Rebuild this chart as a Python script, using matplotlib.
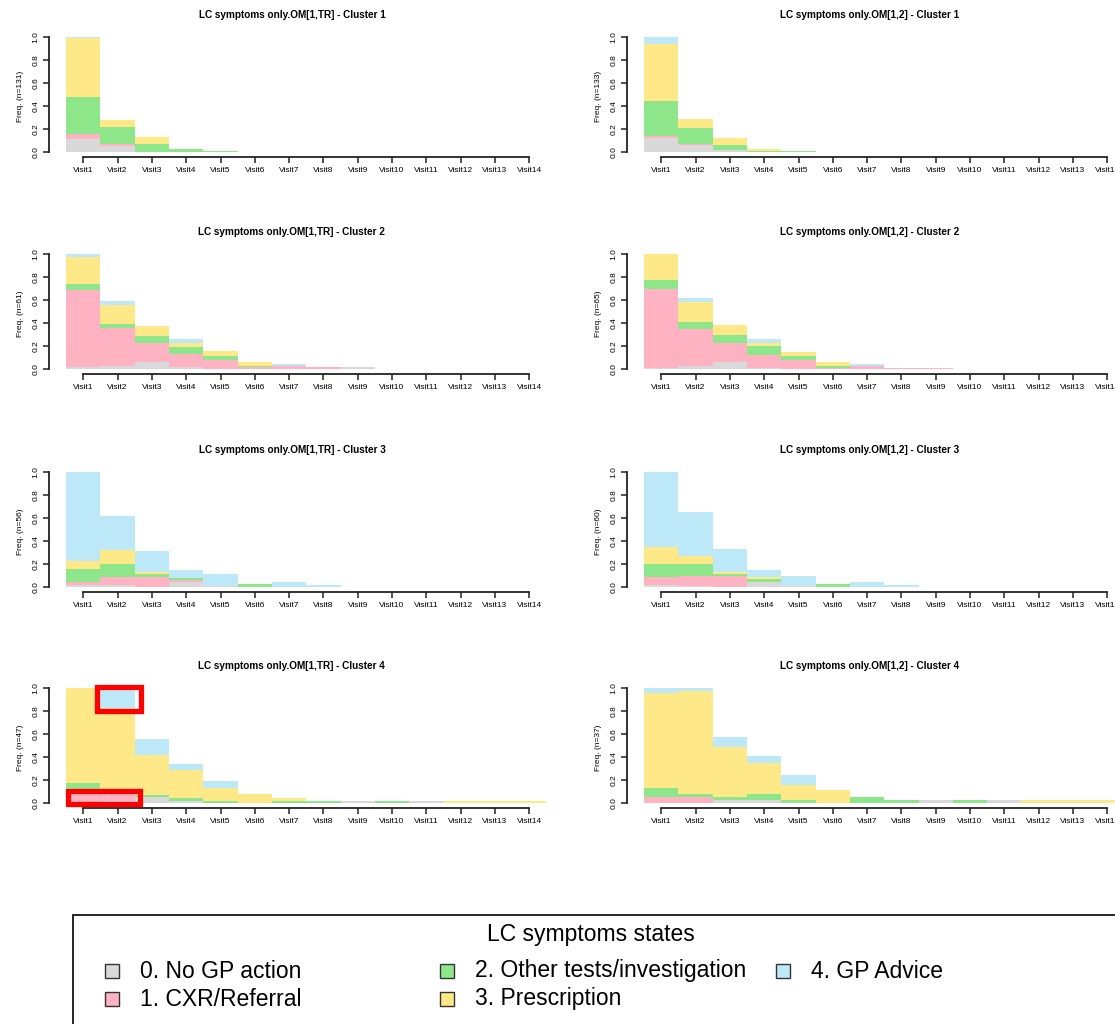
import matplotlib.pyplot as plt
from matplotlib.patches import Rectangle
import numpy as np

plt.rcParams['font.family'] = ['Liberation Sans', 'DejaVu Sans']

visits = ['Visit%d' % i for i in range(1, 15)]
states = ['0. No GP action', '1. CXR/Referral', '2. Other tests/investigation',
          '3. Prescription', '4. GP Advice']
colors = ['#D9D9D9', '#FFB3C2', '#8EE68A', '#FFE888', '#BDE8F7']

# state proportions per visit (rows: states 0..4), one block per cluster plot
om_tr_1 = [[.11, .05, 0, 0, 0, 0, 0, 0, 0, 0, 0, 0, 0, 0],
           [.05, .02, 0, 0, 0, 0, 0, 0, 0, 0, 0, 0, 0, 0],
           [.32, .15, .07, .03, .008, 0, 0, 0, 0, 0, 0, 0, 0, 0],
           [.51, .06, .06, 0, 0, 0, 0, 0, 0, 0, 0, 0, 0, 0],
           [.01, 0, 0, 0, 0, 0, 0, 0, 0, 0, 0, 0, 0, 0]]
om_12_1 = [[.12, .06, .02, 0, 0, 0, 0, 0, 0, 0, 0, 0, 0, 0],
           [.02, .01, 0, 0, 0, 0, 0, 0, 0, 0, 0, 0, 0, 0],
           [.30, .14, .04, .01, .008, 0, 0, 0, 0, 0, 0, 0, 0, 0],
           [.50, .08, .06, .02, 0, 0, 0, 0, 0, 0, 0, 0, 0, 0],
           [.06, 0, 0, 0, 0, 0, 0, 0, 0, 0, 0, 0, 0, 0]]
om_tr_2 = [[.02, .03, .06, .02, 0, 0, 0, 0, .015, 0, 0, 0, 0, 0],
           [.67, .33, .17, .11, .08, .02, .03, .02, 0, 0, 0, 0, 0, 0],
           [.05, .03, .06, .06, .03, .01, 0, 0, 0, 0, 0, 0, 0, 0],
           [.23, .17, .08, .04, .05, .03, 0, 0, 0, 0, 0, 0, 0, 0],
           [.03, .03, 0, .03, 0, 0, .015, 0, 0, 0, 0, 0, 0, 0]]
om_12_2 = [[.01, .03, .06, .01, 0, 0, 0, 0, 0, 0, 0, 0, 0, 0],
           [.69, .32, .17, .11, .08, .01, .03, .01, .005, 0, 0, 0, 0, 0],
           [.07, .06, .07, .08, .03, .02, 0, 0, 0, 0, 0, 0, 0, 0],
           [.23, .17, .08, .03, .04, .03, 0, 0, 0, 0, 0, 0, 0, 0],
           [0, .04, 0, .03, 0, 0, .015, 0, 0, 0, 0, 0, 0, 0]]
om_tr_3 = [[.02, .02, 0, .04, .01, 0, 0, 0, 0, 0, 0, 0, 0, 0],
           [.02, .07, .09, .02, 0, 0, 0, 0, 0, 0, 0, 0, 0, 0],
           [.12, .11, .02, .02, 0, .025, 0, 0, 0, 0, 0, 0, 0, 0],
           [.07, .12, .02, 0, 0, 0, 0, 0, 0, 0, 0, 0, 0, 0],
           [.77, .30, .18, .07, .10, 0, .04, .02, 0, 0, 0, 0, 0, 0]]
om_12_3 = [[.02, .01, 0, .04, .01, 0, 0, 0, 0, 0, 0, 0, 0, 0],
           [.07, .09, .10, 0, 0, 0, 0, 0, 0, 0, 0, 0, 0, 0],
           [.11, .10, .01, .03, 0, .025, 0, 0, 0, 0, 0, 0, 0, 0],
           [.15, .07, .02, .02, 0, 0, 0, 0, 0, 0, 0, 0, 0, 0],
           [.65, .38, .20, .06, .09, 0, .04, .02, 0, 0, 0, 0, 0, 0]]
om_tr_4 = [[0, .02, .05, .02, 0, 0, 0, 0, .02, 0, .02, 0, 0, 0],
           [.10, .06, 0, 0, 0, 0, 0, 0, 0, 0, 0, 0, 0, 0],
           [.07, .02, .02, .02, .02, 0, .02, .02, 0, .02, 0, 0, 0, 0],
           [.83, .73, .35, .25, .11, .08, .02, 0, 0, 0, 0, .02, .02, .02],
           [0, .17, .14, .05, .06, 0, 0, 0, 0, 0, 0, 0, 0, 0]]
om_12_4 = [[0, 0, .03, .03, 0, 0, 0, 0, .03, 0, .03, 0, 0, 0],
           [.05, .05, 0, 0, 0, 0, 0, 0, 0, 0, 0, 0, 0, 0],
           [.08, .03, .02, .05, .03, 0, .05, .03, 0, .03, 0, 0, 0, 0],
           [.83, .89, .44, .27, .13, .11, 0, 0, 0, 0, 0, .03, .03, .03],
           [.04, .03, .08, .06, .08, 0, 0, 0, 0, 0, 0, 0, 0, 0]]

panels = [('LC symptoms only.OM[1,TR] - Cluster 1', 131, om_tr_1),
          ('LC symptoms only.OM[1,2] - Cluster 1', 133, om_12_1),
          ('LC symptoms only.OM[1,TR] - Cluster 2', 61, om_tr_2),
          ('LC symptoms only.OM[1,2] - Cluster 2', 65, om_12_2),
          ('LC symptoms only.OM[1,TR] - Cluster 3', 56, om_tr_3),
          ('LC symptoms only.OM[1,2] - Cluster 3', 60, om_12_3),
          ('LC symptoms only.OM[1,TR] - Cluster 4', 47, om_tr_4),
          ('LC symptoms only.OM[1,2] - Cluster 4', 37, om_12_4)]

W, H = 1115, 1024
fig = plt.figure(figsize=(W / 100, H / 100), dpi=100)

# pixel geometry: x of data 0, y of data 0, pixels per unit
col_x0 = [49, 627]
row_y0 = [152, 369, 587, 803]
upx, upy = 34.3, 115
xlim = (0, 14.6)
ylim = (-0.06, 1.02)

axes = []
for k, (title, n, data) in enumerate(panels):
    x0, y0 = col_x0[k % 2], row_y0[k // 2]
    lp = x0 + xlim[0] * upx
    rp = x0 + xlim[1] * upx
    bp = y0 - ylim[0] * upy
    tp = y0 - ylim[1] * upy
    ax = fig.add_axes([lp / W, 1 - bp / H, (rp - lp) / W, (bp - tp) / H])
    axes.append(ax)

    x = np.arange(1, 15)
    bottom = np.zeros(14)
    for s in range(5):
        vals = np.array(data[s], dtype=float)
        ax.bar(x, vals, width=1.0, bottom=bottom, color=colors[s],
               linewidth=0)
        bottom += vals

    ax.set_xlim(*xlim)
    ax.set_ylim(*ylim)
    for side in ['top', 'right']:
        ax.spines[side].set_visible(False)
    ax.spines['left'].set_bounds(0, 1)
    ax.spines['bottom'].set_position(('data', -0.045))
    ax.spines['bottom'].set_bounds(1, 14)
    for side in ['left', 'bottom']:
        ax.spines[side].set_linewidth(1.3)
        ax.spines[side].set_color('#222222')
    ax.set_xticks(x)
    ax.set_xticklabels(visits, fontsize=6)
    ax.set_yticks([0, 0.2, 0.4, 0.6, 0.8, 1.0])
    ax.set_yticklabels(['0.0', '0.2', '0.4', '0.6', '0.8', '1.0'],
                       fontsize=6, rotation=90, va='center')
    ax.tick_params(axis='both', length=4, width=1.1, color='#222222', pad=3)
    ax.set_ylabel('Freq. (n=%d)' % n, fontsize=6, labelpad=6)
    ax.set_title(title, fontsize=7.2, fontweight='bold', pad=12,
                 x=0.485)

# highlighted blocks on the first column, cluster 4
ax4 = axes[6]
for (xa, ya, xb, yb) in [(0.54, -0.005, 2.64, 0.10), (1.41, 0.80, 2.67, 1.013)]:
    ax4.add_patch(Rectangle((xa, ya), xb - xa, yb - ya, fill=False,
                            edgecolor='#FF0000', linewidth=3.8,
                            clip_on=False, zorder=5))

# legend box
def fx(px):
    return px / W

def fy(py):
    return 1 - py / H

fig.patches.append(Rectangle((fx(73), fy(1040)), fx(1140) - fx(73),
                             fy(915) - fy(1040), fill=False, edgecolor='black',
                             linewidth=1.2, transform=fig.transFigure))
fig.text(fx(591), fy(935), 'LC symptoms states', fontsize=16.5,
         ha='center', va='center')
entries = [(105, 971, 0), (105, 999, 1), (440, 971, 2), (440, 999, 3),
           (776, 971, 4)]
for px, py, s in entries:
    fig.patches.append(Rectangle((fx(px), fy(py + 7)), fx(14), 14 / H,
                                 facecolor=colors[s], edgecolor='#333333',
                                 linewidth=1.0, transform=fig.transFigure))
    fig.text(fx(px + 35), fy(py), states[s], fontsize=16.5,
             ha='left', va='center')

fig.savefig('out.png', dpi=100)
